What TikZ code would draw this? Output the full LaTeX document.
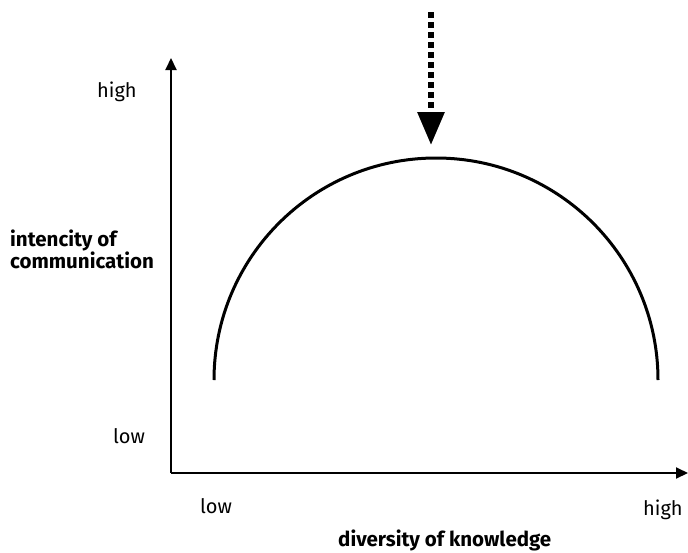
\documentclass[tikz,border=0pt]{standalone}
\usepackage{fontspec}
\setmainfont{Fira Sans}
\usetikzlibrary{arrows.meta,positioning}

\begin{document}
\begin{tikzpicture}[x=1pt,y=1pt,every node/.style={font=\fontsize{20}{22}\selectfont,inner sep=0pt},
  axis/.style={line width=2pt,-{Triangle[length=12pt,width=11pt]}},
  curve/.style={line width=3pt},
  pointer/.style={line width=6pt,dash pattern=on 6pt off 4pt,-{Triangle[length=33pt,width=26pt]}},
  label/.style={font=\fontsize{20.5}{22}\selectfont\bfseries,align=left}]
\useasboundingbox (0,0) rectangle (688,-552);
\coordinate (O) at (171,-473);\coordinate (ytop) at (171,-58);\coordinate (xend) at (688,-473);
\coordinate (top) at (431,-12);\coordinate (tip) at (431,-145);
\draw[axis] (O)--(ytop);
\draw[axis] (O)--(xend);
\draw[curve] (214,-380) arc[start angle=180,end angle=0,radius=222];
\draw[pointer] (top)--(tip);
\node[anchor=base west] (yhigh) at (97,-97) {high};
\node[anchor=base west] (ylow) at (113,-443) {low};
\node[label,anchor=base west] (ylab) at (10,-268) {intencity of\\communication};
\node[anchor=base west] (xlow) at (200,-513) {low};
\node[anchor=base west] (xhigh) at (643,-515) {high};
\node[label,anchor=base west] (xlab) at (338,-546) {diversity of knowledge};
\end{tikzpicture}
\end{document}
